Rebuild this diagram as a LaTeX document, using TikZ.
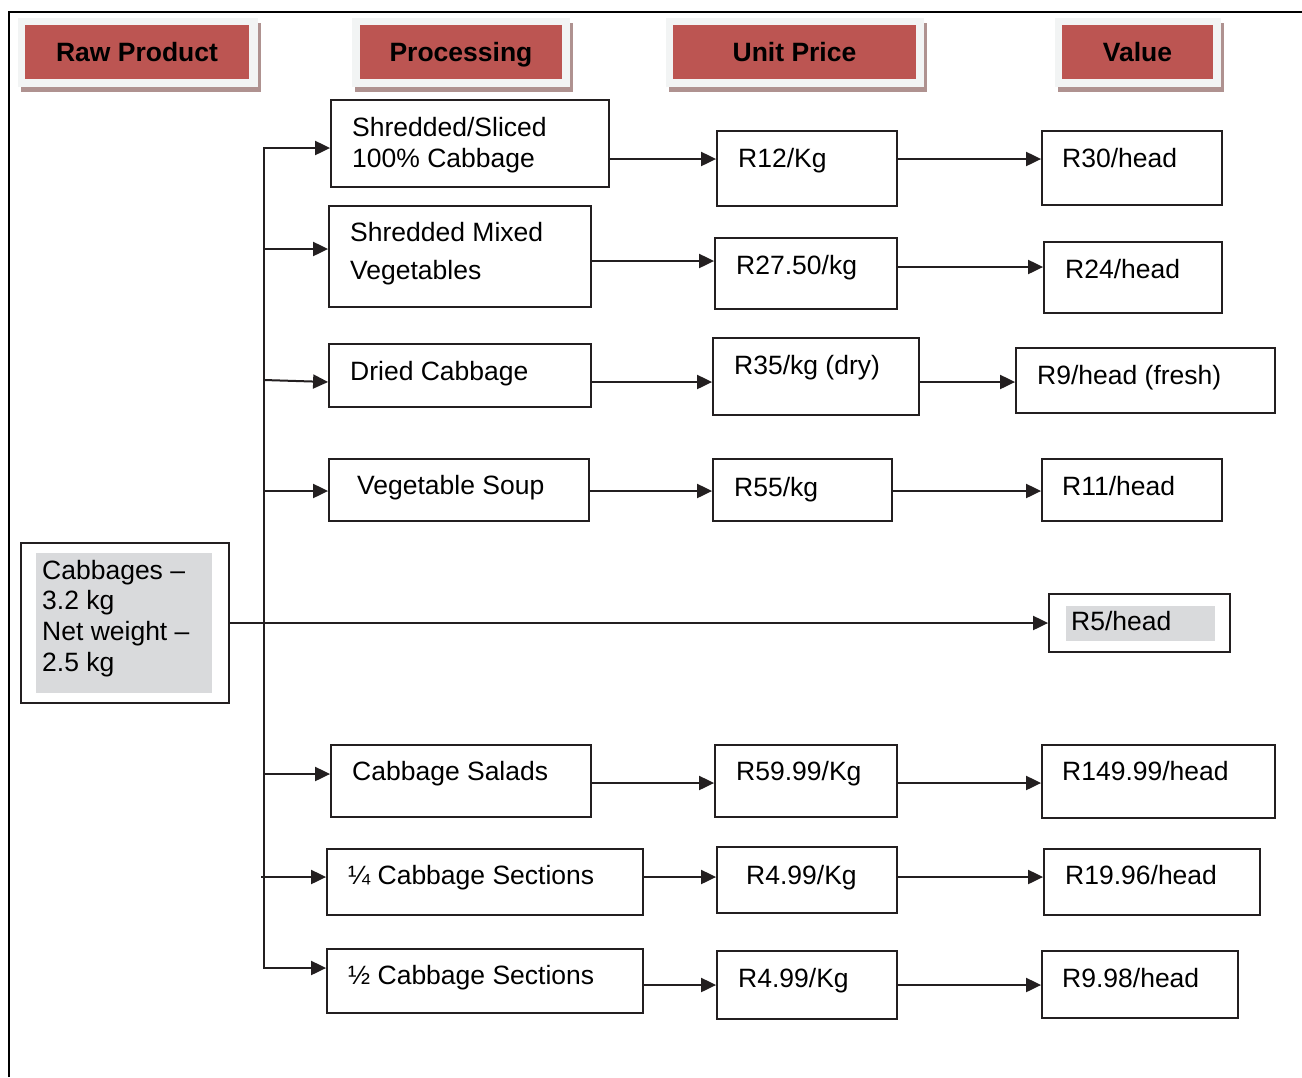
\documentclass[tikz,border=0pt]{standalone}
\usepackage{fontspec}
\setmainfont{Liberation Sans}
\usetikzlibrary{arrows.meta,fit,calc}
\definecolor{hdrred}{HTML}{BC5552}
\definecolor{hdrpad}{HTML}{F2F4F4}
\definecolor{hdrshade}{HTML}{AF9290}
\definecolor{greyfill}{HTML}{D9DADC}
\definecolor{ink}{HTML}{231F20}
% stacked lines with a fixed distance between baselines
\newcommand\linestack[2]{\vtop{\baselineskip=#1\relax\lineskiplimit=-100pt #2}}
\begin{document}
\begin{tikzpicture}[x=1pt,y=-1pt,
  every node/.style={font=\fontsize{26.5pt}{31pt}\selectfont, text=black},
  box/.style={draw=ink, line width=1.8pt, inner sep=0pt, rectangle},
  lbl/.style={anchor=base west, inner sep=0pt},
  hdr/.style={fill=hdrred, inner sep=0pt},
  hdrtext/.style={inner sep=0pt, text height=19pt, text depth=0pt,
              font=\fontsize{26.5pt}{31pt}\selectfont\bfseries},
  arr/.style={draw=ink, line width=2pt, -{Triangle[length=15pt,width=14pt]}},
  wire/.style={draw=ink, line width=2pt, line cap=rect}]

\useasboundingbox (0,0) rectangle (1302,1077);

% page frame (top and left edges)
\draw[line width=2.5pt] (9,1077) -- (9,12) -- (1302,12);

% ---- column headers ----
\fill[hdrshade] (21,23) rectangle (261,92);
\fill[hdrpad] (18,18) rectangle (258,87);
\node[hdr, fit={(25,25) (249,79)}] (hraw) {};
\node[hdrtext] (hrawt) at (hraw.center) {Raw Product};

\fill[hdrshade] (355,23) rectangle (573,92);
\fill[hdrpad] (352,18) rectangle (570,87);
\node[hdr, fit={(360,25) (562,79)}] (hproc) {};
\node[hdrtext] (hproct) at (hproc.center) {Processing};

\fill[hdrshade] (669,23) rectangle (927,92);
\fill[hdrpad] (666,18) rectangle (924,87);
\node[hdr, fit={(673,25) (916,79)}] (hunit) {};
\node[hdrtext] (hunitt) at (hunit.center) {Unit Price};

\fill[hdrshade] (1058,23) rectangle (1224,92);
\fill[hdrpad] (1055,18) rectangle (1221,87);
\node[hdr, fit={(1062,25) (1213,79)}] (hval) {};
\node[hdrtext] (hvalt) at (hval.center) {Value};

% ---- raw product ----
\node[box, fit={(21,543) (229,703)}] (raw) {};
\fill[greyfill] (36,553) rectangle (212,693);
\node[lbl] (rawt) at (42,579) {\linestack{30.7pt}{\hbox{Cabbages --}\hbox{3.2 kg}\hbox{Net weight --}\hbox{2.5 kg}}};

% ---- processing boxes ----
\node[box, fit={(331,100) (609,187)}] (p1) {};
\node[lbl] (p1t) at (352,136) {\linestack{31pt}{\hbox{Shredded/Sliced}\hbox{100\% Cabbage}}};
\node[box, fit={(329,206) (591,307)}] (p2) {};
\node[lbl] (p2t) at (350,241) {\linestack{38pt}{\hbox{Shredded Mixed}\hbox{Vegetables}}};
\node[box, fit={(329,344) (591,407)}] (p3) {};
\node[lbl] (p3t) at (350,380) {Dried Cabbage};
\node[box, fit={(329,459) (589,521)}] (p4) {};
\node[lbl] (p4t) at (357,494) {Vegetable Soup};
\node[box, fit={(331,745) (591,817)}] (p5) {};
\node[lbl] (p5t) at (352,780) {Cabbage Salads};
\node[box, fit={(327,849) (643,915)}] (p6) {};
\node[lbl] (p6t) at (348,884) {¼ Cabbage Sections};
\node[box, fit={(327,949) (643,1013)}] (p7) {};
\node[lbl] (p7t) at (348,984) {½ Cabbage Sections};

% ---- unit price boxes ----
\node[box, fit={(717,131) (897,206)}] (u1) {};
\node[lbl] (u1t) at (738,167) {R12/Kg};
\node[box, fit={(715,238) (897,309)}] (u2) {};
\node[lbl] (u2t) at (736,274) {R27.50/kg};
\node[box, fit={(713,338) (919,415)}] (u3) {};
\node[lbl] (u3t) at (734,374) {R35/kg (dry)};
\node[box, fit={(713,459) (892,521)}] (u4) {};
\node[lbl] (u4t) at (734,496) {R55/kg};
\node[box, fit={(715,745) (897,817)}] (u5) {};
\node[lbl] (u5t) at (736,780) {R59.99/Kg};
\node[box, fit={(717,847) (897,913)}] (u6) {};
\node[lbl] (u6t) at (746,884) {R4.99/Kg};
\node[box, fit={(717,951) (897,1019)}] (u7) {};
\node[lbl] (u7t) at (738,987) {R4.99/Kg};

% ---- value boxes ----
\node[box, fit={(1042,131) (1222,205)}] (v1) {};
\node[lbl] (v1t) at (1062,167) {R30/head};
\node[box, fit={(1044,242) (1222,313)}] (v2) {};
\node[lbl] (v2t) at (1065,278) {R24/head};
\node[box, fit={(1016,348) (1275,413)}] (v3) {};
\node[lbl] (v3t) at (1037,384) {R9/head (fresh)};
\node[box, fit={(1042,459) (1222,521)}] (v4) {};
\node[lbl] (v4t) at (1062,495) {R11/head};
\node[box, fit={(1049,594) (1230,652)}] (vraw) {};
\fill[greyfill] (1066,606) rectangle (1215,641);
\node[lbl] (vrawt) at (1071,630) {R5/head};
\node[box, fit={(1042,745) (1275,818)}] (v5) {};
\node[lbl] (v5t) at (1062,780) {R149.99/head};
\node[box, fit={(1044,849) (1260,915)}] (v6) {};
\node[lbl] (v6t) at (1065,884) {R19.96/head};
\node[box, fit={(1042,951) (1238,1018)}] (v7) {};
\node[lbl] (v7t) at (1062,987) {R9.98/head};

% ---- distribution trunk and branches ----
\coordinate (b1) at (264,148);
\coordinate (b2) at (264,249);
\coordinate (b3) at (264,380);
\coordinate (b4) at (264,491);
\coordinate (b5) at (264,774);
\coordinate (b6) at (261,877);
\coordinate (b7) at (264,968);
\draw[wire] (b1) -- (b7);
\draw[arr] (b1) -- (b1 -| p1.west);
\draw[arr] (b2) -- (b2 -| p2.west);
\coordinate (e3) at (0,382);
\draw[arr] (b3) -- (e3 -| p3.west);
\draw[arr] (b4) -- (b4 -| p4.west);
\draw[arr] (b5) -- (b5 -| p5.west);
\draw[arr] (b6) -- (b6 -| p6.west);
\draw[arr] (b7) -- (b7 -| p7.west);

% raw cabbage sold as is
\draw[arr] (raw.east) -- (vraw.west);

% ---- row connectors ----
\coordinate (r1a) at (0,159);
\coordinate (r2a) at (0,261);
\coordinate (r2b) at (0,267);
\coordinate (r3) at (0,382);
\coordinate (r4) at (0,491);
\coordinate (r5) at (0,783);
\coordinate (r6) at (0,877);
\coordinate (r7) at (0,985);
\draw[arr] (p1.east |- r1a) -- (u1.west |- r1a);
\draw[arr] (u1.east |- r1a) -- (v1.west |- r1a);
\draw[arr] (p2.east |- r2a) -- (u2.west |- r2a);
\draw[arr] (u2.east |- r2b) -- (v2.west |- r2b);
\draw[arr] (p3.east |- r3) -- (u3.west |- r3);
\draw[arr] (u3.east |- r3) -- (v3.west |- r3);
\draw[arr] (p4.east |- r4) -- (u4.west |- r4);
\draw[arr] (u4.east |- r4) -- (v4.west |- r4);
\draw[arr] (p5.east |- r5) -- (u5.west |- r5);
\draw[arr] (u5.east |- r5) -- (v5.west |- r5);
\draw[arr] (p6.east |- r6) -- (u6.west |- r6);
\draw[arr] (u6.east |- r6) -- (v6.west |- r6);
\draw[arr] (p7.east |- r7) -- (u7.west |- r7);
\draw[arr] (u7.east |- r7) -- (v7.west |- r7);
\end{tikzpicture}
\end{document}
